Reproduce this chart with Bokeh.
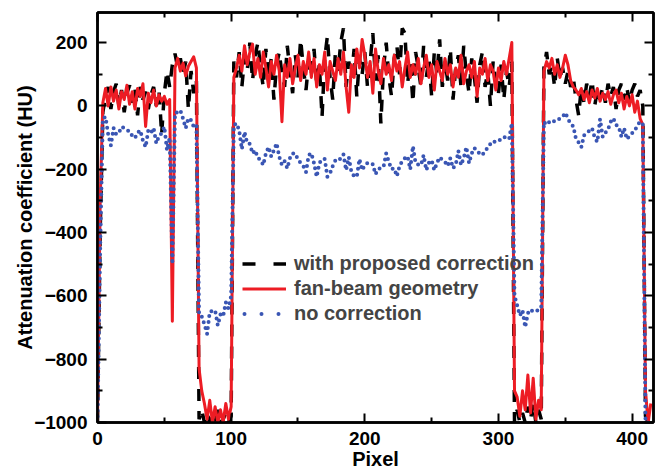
from bokeh.plotting import figure
from bokeh.models import Legend, LegendItem, LinearAxis, Range1d, FixedTicker
from bokeh.embed import file_html
from bokeh.resources import INLINE

# pixel positions (every second pixel)
pixel = list(range(0, 416, 2))

proposed = [
    -1000, -400, -20, 30, 60, -10, 45, 70, 0, 50,
    -20, 40, 65, 10, 55, -30, 60, 20, 45, -10,
    35, 60, 0, 50, -90, 40, 110, 60, 130, 165,
    120, 150, 100, 140, -10, 110, 40, 80, -990, -960,
    -1000, -970, -1000, -980, -1000, -960, -1000, -990, -970, -1000,
    -980, 140, 90, 170, 60, 150, 110, 200, 80, 160,
    200, 120, 60, 180, 90, 150, 20, 130, 170, 100,
    60, 190, 110, 40, 160, 90, 210, 120, 50, 140,
    100, 180, 70, 130, -35, 150, 220, 90, 20, 170,
    110, 200, 245, 60, 140, 90, 180, 30, 150, 100,
    170, 60, 140, 230, 80, 160, -55, 120, 200, 90,
    30, 150, 190, 100, 245, 230, 70, 140, 10, 170,
    120, 60, 190, 90, 150, 30, 170, 100, 210, 60,
    140, 80, 180, 20, 120, 160, 60, 190, 100, 40,
    150, 90, 10, 130, 170, 60, 110, 0, 140, 80,
    40, 130, 20, 110, 60, 140, -1000, -960, -1000, -970,
    -1000, -950, -990, -940, -1000, -960, -990, 120, 170, 100,
    130, 60, 150, 90, 120, 70, 110, 60, 90, 20,
    -30, 60, 10, 70, 30, 80, 0, 50, 20, 60,
    10, 70, 30, 60, -10, 50, 70, 20, 60, 10,
    50, 70, 30, 50, 0, -980, -1000, -1000,
]

fanbeam = [
    -1000, -300, 10, 55, 0, 60, 15, 50, -10, 45,
    20, 65, 5, 45, -10, 55, 30, 70, -65, 40,
    10, 50, 0, 35, 15, 30, 5, 20, -680, 120,
    150, 110, 135, 95, 125, 140, 155, 120, -830, -900,
    -940, -990, -930, -1000, -950, -1000, -960, -1000, -940, -990,
    -950, 90, 120, 160, 110, 190, 130, 170, 195, 100,
    150, 90, 170, 120, 60, 140, 100, 160, 110, -50,
    130, 90, 150, 70, 120, 160, 80, 140, 100, 170,
    90, 150, 60, 130, 100, 170, 50, 140, 110, 80,
    150, 100, 170, 60, -20, 130, 90, 180, 120, 210,
    160, 90, 140, 40, 180, 110, 70, 150, 100, 130,
    80, 160, 110, 140, 60, 120, 170, 90, 130, 100,
    150, 70, 120, 160, 90, 130, 50, 140, 110, 80,
    150, 100, 130, 60, 120, 90, 160, 70, 110, 130,
    90, 140, 30, 120, 100, 150, 80, 130, 110, 50,
    120, 80, 140, 100, 150, 200, -900, -920, -980, -900,
    -960, -850, -970, -860, -990, -930, -960, 110, 140, 120,
    150, 100, 130, 90, 120, 160, 130, 80, 60, 50,
    35, 55, 20, 45, 10, 50, 25, 55, 15, 40,
    20, 45, 5, 35, 50, 10, 40, -10, 30, 0,
    35, -20, 15, -40, -60, -900, -1000, -940,
]

nocorr = [
    -1000, -450, -40, -35, -90, -125, -70, -90, -85, -66,
    -70, -77, -80, -95, -102, -85, -77, -110, -130, -77,
    -85, -70, -118, -95, -86, -66, -140, -100, -500, -23,
    -20, -14, -40, -70, -39, -45, -66, -60, -660, -665,
    -690, -720, -650, -648, -646, -693, -659, -665, -620, -640,
    -600, -61, -55, -77, -137, -82, -118, -120, -150, -140,
    -165, -170, -187, -150, -130, -160, -140, -118, -161, -187,
    -175, -197, -165, -150, -150, -170, -180, -190, -209, -156,
    -149, -181, -224, -181, -168, -168, -224, -213, -190, -172,
    -174, -165, -153, -203, -162, -209, -222, -224, -168, -203,
    -187, -180, -185, -184, -216, -200, -195, -193, -150, -177,
    -200, -197, -222, -190, -174, -165, -159, -200, -127, -181,
    -185, -187, -156, -203, -180, -172, -203, -180, -162, -170,
    -177, -190, -165, -197, -187, -142, -187, -165, -130, -181,
    -150, -133, -145, -150, -156, -140, -134, -120, -111, -115,
    -111, -105, -98, -100, -105, -54, -600, -630, -662, -646,
    -699, -655, -643, -650, -646, -646, -635, -51, -60, -51,
    -45, -50, -45, -40, -35, -22, -40, -58, -64, -105,
    -115, -130, -93, -86, -78, -70, -100, -114, -42, -98,
    -85, -74, -50, -39, -60, -66, -98, -70, -105, -95,
    -86, -79, -60, -51, -55, -1000, -1000, -1000,
]

x_major = [0, 100, 200, 300, 400]
x_minor = [50, 150, 250, 350]
y_major = [-1000, -800, -600, -400, -200, 0, 200]
y_minor = [-900, -700, -500, -300, -100, 100]

labels = ["with proposed correction", "fan-beam geometry", "no correction"]

FONT = "Liberation Sans"
RED = "#ED1C24"
BLUE = "#3A56B4"

p = figure(width=660, height=472, output_backend="svg", toolbar_location=None,
           x_range=Range1d(0, 416), y_range=Range1d(-1000, 295),
           min_border_left=97, min_border_right=7, min_border_top=12,
           min_border_bottom=50, x_axis_label="Pixel",
           y_axis_label="Attenuation coefficient (HU)")
p.grid.visible = False
p.outline_line_color = "black"
p.outline_line_width = 2.5
p.background_fill_color = "white"
p.border_fill_color = "white"


def style(ax, show_labels=True):
    ax.axis_line_width = 2.5
    ax.axis_line_color = "black"
    ax.major_tick_in = 9
    ax.major_tick_out = 0
    ax.minor_tick_in = 5
    ax.minor_tick_out = 0
    ax.major_tick_line_width = 2
    ax.minor_tick_line_width = 2
    ax.major_tick_line_color = "black"
    ax.minor_tick_line_color = "black"
    ax.major_label_text_font = FONT
    ax.major_label_text_font_style = "bold"
    ax.axis_label_text_font = FONT
    ax.axis_label_text_font_style = "bold"
    ax.axis_label_text_font_size = "20px"
    ax.axis_label_text_color = "black"
    if show_labels:
        ax.major_label_text_color = "black"
        ax.major_label_text_font_size = "19px"
    else:
        ax.major_label_text_font_size = "1px"
        ax.major_label_text_color = None
        ax.major_label_text_alpha = 0
        ax.major_label_standoff = 0


p.xaxis[0].ticker = FixedTicker(ticks=x_major, minor_ticks=x_minor)
p.yaxis[0].ticker = FixedTicker(ticks=y_major, minor_ticks=y_minor)
style(p.xaxis[0])
style(p.yaxis[0])
p.xaxis[0].major_label_standoff = 9
p.xaxis[0].axis_label_standoff = 0
p.yaxis[0].major_label_standoff = 10
p.yaxis[0].axis_label_standoff = -5

top = LinearAxis(ticker=FixedTicker(ticks=x_major, minor_ticks=x_minor))
right = LinearAxis(ticker=FixedTicker(ticks=y_major, minor_ticks=y_minor))
style(top, False)
style(right, False)
p.add_layout(top, "above")
p.add_layout(right, "right")

r_black = p.line(pixel, proposed, line_color="black", line_width=3.5, line_dash="12 10")
r_red = p.line(pixel, fanbeam, line_color=RED, line_width=3, line_join="round")
r_blue = p.line(pixel, nocorr, line_color=BLUE, line_width=4, line_dash="0 6",
                line_cap="round")

# legend keys: one-point lines (draw nothing in the plot) with the key's own dash spacing
k_black = p.line(pixel[:1], proposed[:1], line_color="black", line_width=3.5,
                 line_dash="13 18")
k_blue = p.line(pixel[:1], nocorr[:1], line_color=BLUE, line_width=4, line_dash="0 17",
                line_cap="round", line_dash_offset=-2)

legend = Legend(items=[LegendItem(label=labels[0], renderers=[k_black]),
                       LegendItem(label=labels[1], renderers=[r_red]),
                       LegendItem(label=labels[2], renderers=[k_blue])],
                location=(145, 97), padding=0, margin=0, spacing=2,
                glyph_width=44, glyph_height=23, label_height=23, label_standoff=8,
                label_text_font=FONT, label_text_font_style="bold",
                label_text_font_size="20px", background_fill_alpha=0,
                border_line_color=None)
p.add_layout(legend)

open("out.html", "w").write(file_html(p, INLINE))
